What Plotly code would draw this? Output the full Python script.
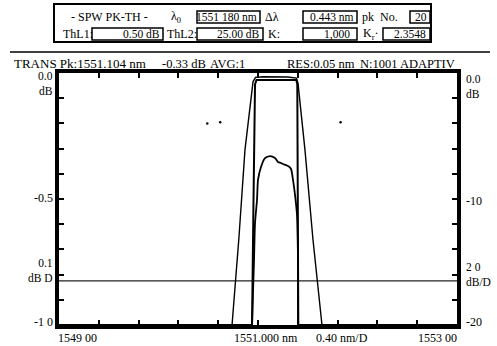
import plotly.graph_objects as go

# ---------------- data ----------------
outer_x = [1549.00, 1550.739, 1550.809, 1550.869, 1550.950, 1550.975, 1551.05, 1551.18, 1551.30, 1551.385, 1551.402, 1551.472, 1551.553, 1551.643, 1553.00]
outer_y = [-20.0, -20.0, -13.0, -6.1, -0.7, -0.35, -0.30, -0.30, -0.32, -0.40, -0.8, -6.1, -13.25, -20.0, -20.0]

inner_x = [1549.00, 1550.940, 1550.955, 1550.970, 1550.985, 1551.385, 1551.395, 1551.400, 1551.405, 1553.00]
inner_y = [-20.0, -20.0, -10.0, -0.9, -0.55, -0.55, -0.9, -10.0, -20.0, -20.0]

hump_x = [1550.940, 1550.960, 1550.970, 1550.990, 1551.000, 1551.030, 1551.070, 1551.121, 1551.171, 1551.201, 1551.231, 1551.251, 1551.302, 1551.332, 1551.352, 1551.372, 1551.392, 1551.402, 1551.402]
hump_y = [-20.0, -14.84, -11.9, -10.08, -8.49, -7.46, -6.75, -6.59, -6.75, -7.06, -7.14, -7.22, -7.38, -7.62, -8.49, -9.68, -11.27, -14.84, -20.0]

thresh_x = [1549.00, 1553.00]
thresh_y = [-16.5, -16.5]

dots_x = [1550.49, 1550.62, 1551.83]
dots_y = [-4.0, -3.9, -3.9]

# ---------------- layout helpers (pixel -> paper) ----------------
L, R, T, B = 59, 457, 73, 325
W, H = 497, 346
def px(x):
    return (x - L) / (R - L)
def py(y):
    return (B - y) / (B - T)

FONT = "Liberation Serif"

fig = go.Figure()
fig.add_trace(go.Scatter(x=thresh_x, y=thresh_y, mode="lines", line=dict(color="#222", width=1.3), hoverinfo="skip"))
fig.add_trace(go.Scatter(x=outer_x, y=outer_y, mode="lines", line=dict(color="black", width=1.4), hoverinfo="skip"))
fig.add_trace(go.Scatter(x=inner_x, y=inner_y, mode="lines", line=dict(color="black", width=2), hoverinfo="skip"))
fig.add_trace(go.Scatter(x=hump_x, y=hump_y, mode="lines", line=dict(color="black", width=1.8, shape="spline", smoothing=0.6), hoverinfo="skip"))
fig.add_trace(go.Scatter(x=dots_x, y=dots_y, mode="markers", marker=dict(color="black", size=2.5), hoverinfo="skip"))

axis_common = dict(
    showticklabels=False, ticks="inside", ticklen=5, tickwidth=1.5, tickcolor="black",
    showline=True, linewidth=3.5, linecolor="black", mirror="allticks",
    showgrid=False, zeroline=False, fixedrange=True,
)
fig.update_xaxes(range=[1549, 1553], tick0=1549, dtick=0.4, **axis_common)
fig.update_yaxes(range=[-20, 0], tick0=0, dtick=2, **axis_common)

ann = []
def text(s, x, y, anchor="left", size=12.5, align=None):
    ann.append(dict(text=s, x=px(x), y=py(y), xref="paper", yref="paper",
                    xanchor=anchor, yanchor="middle", showarrow=False,
                    align=align or anchor if anchor != "center" else "center",
                    font=dict(family=FONT, size=size, color="black")))

shapes = []
def box(x0, y0, x1, y1, w=1.5):
    shapes.append(dict(type="rect", xref="paper", yref="paper",
                       x0=px(x0), x1=px(x1), y0=py(y1), y1=py(y0),
                       line=dict(color="black", width=w), fillcolor="rgba(0,0,0,0)"))

# header outer box
box(54, 4, 431, 42, w=2)
# row 1
text("- SPW PK-TH -", 69, 17, size=12)
text("λ<sub>0</sub>", 169, 17, size=12)
box(197, 11, 260, 23)
text("1551 180 nm", 259, 17, anchor="right", size=11.5)
text("Δλ", 263, 17, size=12)
box(303, 11, 357, 23)
text("0.443 nm", 356, 17, anchor="right", size=11.5)
text("pk  No.", 360, 17, size=12)
box(410, 11, 430, 23)
text("20", 429, 17, anchor="right", size=11.5)
# row 2
text("ThL1:", 61, 34, size=12)
box(92, 28, 163, 40)
text("0.50 dB", 162, 34, anchor="right", size=11.5)
text("ThL2:", 165, 34, size=12)
box(197, 28, 263, 40)
text("25.00 dB", 262, 34, anchor="right", size=11.5)
text("K:", 266, 34, size=12)
box(303, 28, 357, 40)
text("1,000", 352, 34, anchor="right", size=11.5)
text("K<sub>r</sub>·", 361, 34, size=12)
box(383, 28, 430, 40)
text("2.3548", 428, 34, anchor="right", size=11.5)

# line under header
shapes.append(dict(type="line", xref="paper", yref="paper", x0=px(10), x1=px(490), y0=py(52), y1=py(52),
                   line=dict(color="black", width=1.5)))

# status line
text("TRANS Pk:1551.104 nm", 12, 64, size=13)
text("-0.33 dB", 160, 64, size=12.5)
text("AVG:1", 208, 64, size=12.5)
text("RES:0.05 nm", 285, 64, size=12.5)
text("N:1001 ADAPTIV", 358, 64, size=12.5)

# left scale labels
text("0.0<br>dB", 55, 83, anchor="right", size=11.5)
text("-0.5", 55, 198, anchor="right", size=12)
text("0.1<br>dB D", 55, 270, anchor="right", size=11.5)
text("-1 0", 55, 322, anchor="right", size=12)

# right scale labels
text("0.0<br>dB", 464, 86, size=11.5)
text("-10", 464, 201, size=12)
text("2 0<br>dB/D", 464, 274, size=11.5)
text("-20", 464, 322, size=12)

# bottom labels
text("1549 00", 56, 338, size=12)
text("1551.000 nm", 266, 338, anchor="center", size=12)
text("0.40 nm/D", 342, 338, anchor="center", size=12)
text("1553 00", 459, 338, anchor="right", size=12)

fig.update_layout(
    width=W, height=H,
    margin=dict(l=L, r=W - R, t=T, b=H - B, pad=0),
    paper_bgcolor="white", plot_bgcolor="white",
    showlegend=False,
    annotations=ann, shapes=shapes,
)

fig.write_html("out.html", config={"displayModeBar": False},
               post_script="document.body.style.margin='0px';document.body.style.overflow='hidden';")
